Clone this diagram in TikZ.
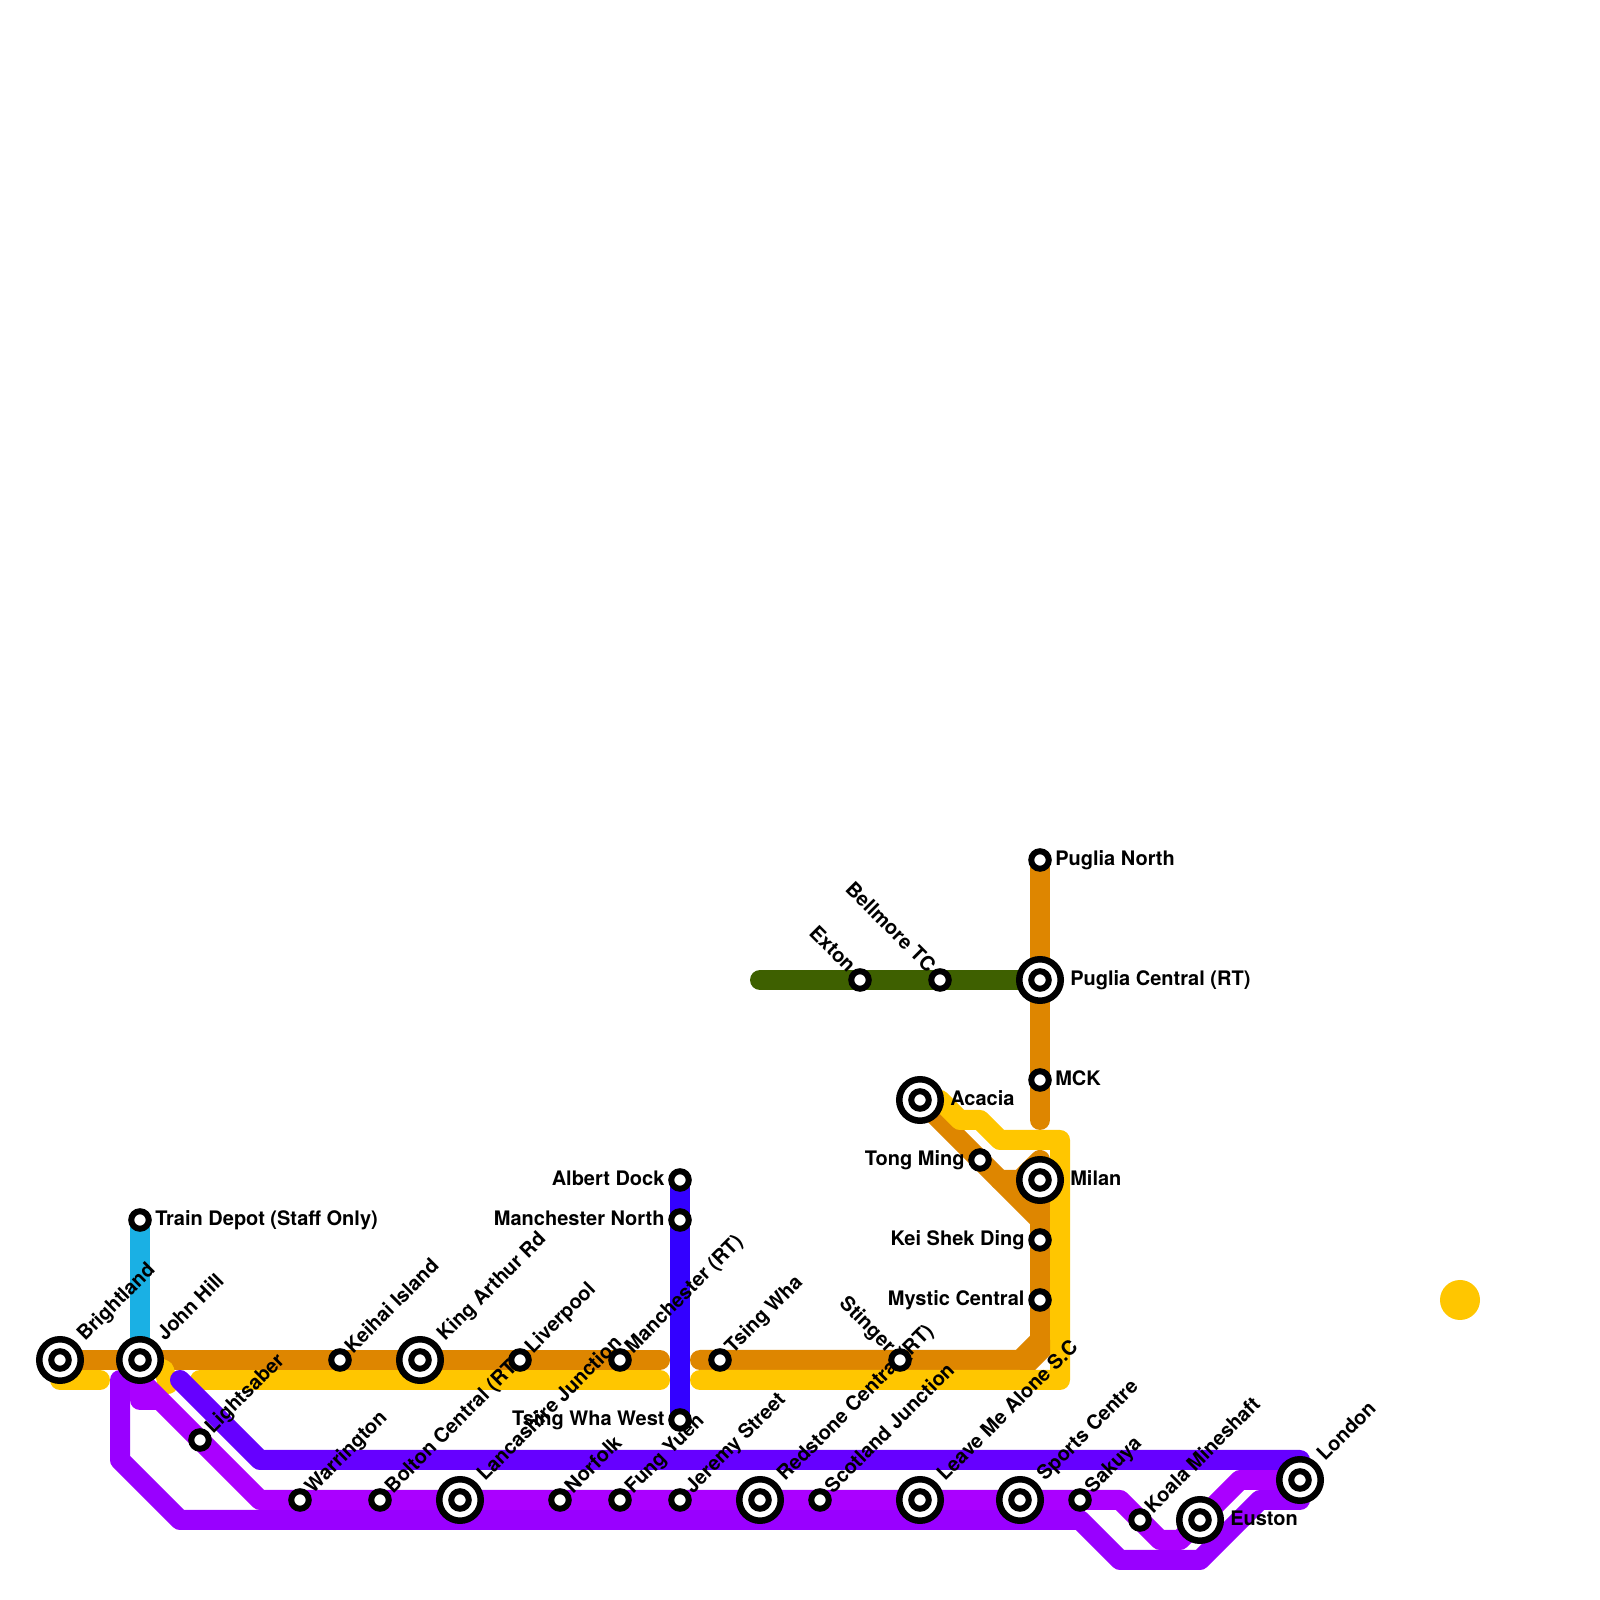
\documentclass[tikz,border=0pt]{standalone}
\usepackage{fontspec}
\setmainfont{TeX Gyre Heros}
\pgfdeclarelayer{lines}
\pgfdeclarelayer{names}
\pgfsetlayers{lines,names,main}
\definecolor{lineorange}{HTML}{DE8600}
\definecolor{lineyellow}{HTML}{FFC600}
\definecolor{linecyan}{HTML}{1AB0E4}
\definecolor{linepurple}{HTML}{9900FF}
\definecolor{linemagenta}{HTML}{AA00FF}
\definecolor{lineviolet}{HTML}{6600FF}
\definecolor{lineblue}{HTML}{3300FF}
\definecolor{linegreen}{HTML}{3E6000}
\tikzset{
	metro/.style={line width=0.5cm,line cap=round,line join=round},
	stop/.style={circle,draw=black,fill=white,line width=0.15cm,minimum size=0.4375cm,inner sep=0pt},
	hub/.style={circle,draw=black,fill=white,line width=0.1625cm,minimum size=1.0375cm,inner sep=0pt,
		path picture={\draw[line width=0.15cm] (path picture bounding box.center) circle (0.219cm);}},
	stationtext/.style={font=\bfseries\fontsize{14.23}{16}\selectfont,inner ysep=0pt,text depth=0pt,text height=0.275cm},
	lblright/.style={stationtext,anchor=west,inner xsep=0.375cm},
	lblrighthub/.style={stationtext,anchor=west,inner xsep=0.75cm},
	lblleft/.style={stationtext,anchor=east,inner xsep=0.38cm},
	lblup/.style={stationtext,anchor=west,rotate=45,inner xsep=0.33cm,text height=0.25cm},
	lbluphub/.style={stationtext,anchor=west,rotate=45,inner xsep=0.76cm,text height=0.25cm},
	lblback/.style={stationtext,anchor=east,rotate=-45,inner xsep=0.33cm,text height=0.22cm},
}
\begin{document}
\begin{tikzpicture}[x=0.5cm,y=0.5cm]
	\useasboundingbox (0,0) rectangle (80,80);

	% Stations on the long east-west row
	\node[hub] (brightland) at (3,12) {};
	\node[hub] (johnhill) at (7,12) {};
	\node[stop] (depot) at (7,19) {};
	\node[stop] (keihai) at (17,12) {};
	\node[hub] (kingarthur) at (21,12) {};
	\node[stop] (liverpool) at (26,12) {};
	\node[stop] (manchester) at (31,12) {};
	\node[stop] (tsingwha) at (36,12) {};
	\node[stop] (stinger) at (45,12) {};

	% Stations on the north-south lines
	\node[stop] (albert) at (34,21) {};
	\node[stop] (manchnorth) at (34,19) {};
	\node[stop] (tsingwest) at (34,9) {};
	\node[stop] (mystic) at (52,15) {};
	\node[stop] (keishek) at (52,18) {};
	\node[hub] (milan) at (52,21) {};
	\node[stop] (tongming) at (49,22) {};
	\node[hub] (acacia) at (46,25) {};
	\node[stop] (mck) at (52,26) {};
	\node[hub] (pugliacentral) at (52,31) {};
	\node[stop] (puglianorth) at (52,37) {};
	\node[stop] (exton) at (43,31) {};
	\node[stop] (bellmore) at (47,31) {};

	% Stations along the bottom
	\node[stop] (lightsaber) at (10,8) {};
	\node[stop] (warrington) at (15,5) {};
	\node[stop] (bolton) at (19,5) {};
	\node[hub] (lancashire) at (23,5) {};
	\node[stop] (norfolk) at (28,5) {};
	\node[stop] (fungyuen) at (31,5) {};
	\node[stop] (jeremy) at (34,5) {};
	\node[hub] (redstone) at (38,5) {};
	\node[stop] (scotland) at (41,5) {};
	\node[hub] (leaveme) at (46,5) {};
	\node[hub] (sports) at (51,5) {};
	\node[stop] (sakuya) at (54,5) {};
	\node[stop] (koala) at (57,4) {};
	\node[hub] (euston) at (60,4) {};
	\node[hub] (london) at (65,6) {};

	% Free line ends
	\coordinate (orangeW) at (33,12);
	\coordinate (orangeE) at (35,12);
	\coordinate (orangeN) at (52,24);
	\coordinate (yellowA) at (3,11);
	\coordinate (yellowB) at (5,11);
	\coordinate (yellowC) at (10,11);
	\coordinate (yellowD) at (33,11);
	\coordinate (yellowE) at (35,11);
	\coordinate (greenW) at (38,31);
	\coordinate (purpleN) at (6,11);
	\coordinate (violetN) at (9,11);

	\begin{pgfonlayer}{lines}
		% Orange
		\draw[metro,lineorange] (brightland.center) -- (orangeW);
		\draw[metro,lineorange] (orangeE) -- (51,12) -- (52,13) -- (52,19) -- (acacia.center);
		\draw[metro,lineorange] (52,13) -- (milan.center) -- (52,22) -- (51,21) -- (50,21);
		\draw[metro,lineorange] (puglianorth.center) -- (orangeN);
		% Yellow
		\draw[metro,lineyellow] (yellowA) -- (yellowB);
		\draw[metro,lineyellow] (johnhill.center) -- (8.2,11.5) -- (8.4,10.8);
		\draw[metro,lineyellow] (yellowC) -- (yellowD);
		\draw[metro,lineyellow] (yellowE) -- (53,11) -- (53,23) -- (50,23) -- (49,24) -- (48,24) -- (47,25) -- (acacia.center);
		\fill[lineorange] (51,11.5) -- (51.75,11.5) -- (52.5,12.25) -- (52.5,13) -- (52,13) -- (51,12) -- cycle;
		% Cyan
		\draw[metro,linecyan] (depot.center) -- (johnhill.center);
		% Two purples
		\draw[metro,linepurple] (purpleN) -- (6,7) -- (9,4) -- (54,4) -- (56,2) -- (60,2) -- (63,5) -- (65,5) -- (london.center);
		\draw[metro,linemagenta] (johnhill.center) -- (7,10) -- (8,10) -- (7,11) -- (13,5) -- (56,5) -- (58,3) -- (59,3) -- (62,6) -- (london.center);
		% Violet
		\draw[metro,lineviolet] (violetN) -- (13,7) -- (65,7) -- (london.center);
		% Blue
		\draw[metro,lineblue] (albert.center) -- (tsingwest.center);
		% Green
		\draw[metro,linegreen] (greenW) -- (pugliacentral.center);
	\end{pgfonlayer}

	\begin{pgfonlayer}{names}
		\node[lbluphub] (brightlandname) at (brightland) {Brightland};
		\node[lbluphub] (johnhillname) at (johnhill) {John Hill};
		\node[lblright] (depotname) at (depot) {Train Depot (Staff Only)};
		\node[lblup] (keihainame) at (keihai) {Keihai Island};
		\node[lbluphub] (kingarthurname) at (kingarthur) {King Arthur Rd};
		\node[lblup] (liverpoolname) at (liverpool) {Liverpool};
		\node[lblup] (manchestername) at (manchester) {Manchester (RT)};
		\node[lblup] (tsingwhaname) at (tsingwha) {Tsing Wha};
		\node[lblback] (stingername) at (stinger) {Stinger};
		\node[lblleft] (albertname) at (albert) {Albert Dock};
		\node[lblleft] (manchnorthname) at (manchnorth) {Manchester North};
		\node[lblleft] (tsingwestname) at (tsingwest) {Tsing Wha West};
		\node[lblleft] (mysticname) at (mystic) {Mystic Central};
		\node[lblleft] (keishekname) at (keishek) {Kei Shek Ding};
		\node[lblrighthub] (milanname) at (milan) {Milan};
		\node[lblleft] (tongmingname) at (tongming) {Tong Ming};
		\node[lblrighthub] (acacianame) at (acacia) {Acacia};
		\node[lblright] (mckname) at (mck) {MCK};
		\node[lblrighthub] (pugliacentralname) at (pugliacentral) {Puglia Central (RT)};
		\node[lblright] (puglianorthname) at (puglianorth) {Puglia North};
		\node[lblback] (extonname) at (exton) {Exton};
		\node[lblback] (bellmorename) at (bellmore) {Bellmore TC};
		\node[lblup] (lightsabername) at (lightsaber) {Lightsaber};
		\node[lblup] (warringtonname) at (warrington) {Warrington};
		\node[lblup] (boltonname) at (bolton) {Bolton Central (RT)};
		\node[lbluphub] (lancashirename) at (lancashire) {Lancashire Junction};
		\node[lblup] (norfolkname) at (norfolk) {Norfolk};
		\node[lblup] (fungyuenname) at (fungyuen) {Fung Yuen};
		\node[lblup] (jeremyname) at (jeremy) {Jeremy Street};
		\node[lbluphub] (redstonename) at (redstone) {Redstone Central (RT)};
		\node[lblup] (scotlandname) at (scotland) {Scotland Junction};
		\node[lbluphub] (leavemename) at (leaveme) {Leave Me Alone S.C};
		\node[lbluphub] (sportsname) at (sports) {Sports Centre};
		\node[lblup] (sakuyaname) at (sakuya) {Sakuya};
		\node[lblup] (koalaname) at (koala) {Koala Mineshaft};
		\node[lblrighthub] (eustonname) at (euston) {Euston};
		\node[lbluphub] (londonname) at (london) {London};
	\end{pgfonlayer}

	% Lone dot on the right
	\node[circle,fill=lineyellow,minimum size=1cm,inner sep=0pt] (yellowdot) at (73,15) {};
\end{tikzpicture}
\end{document}
